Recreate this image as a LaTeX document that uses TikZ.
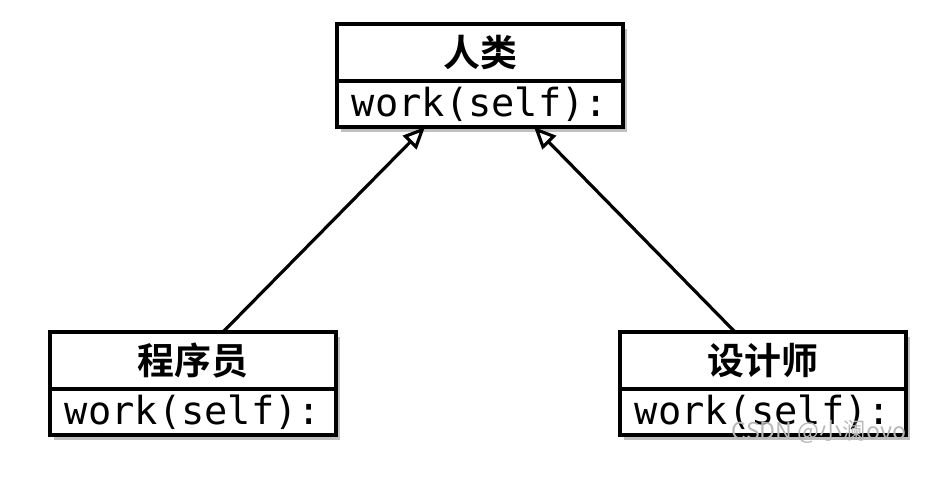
\documentclass[tikz,border=0pt]{standalone}
\usepackage{fontspec}
\setmonofont{DejaVu Sans Mono}
\newfontfamily\cjk{Noto Sans CJK SC}
\newfontfamily\cjkbold{Noto Sans CJK SC Bold}
\usetikzlibrary{positioning,arrows.meta,shadows}

\begin{document}
\begin{tikzpicture}[
    >={Triangle[open,length=0.22cm,width=0.19cm]},
    classbox/.style={draw, line width=1pt, fill=white, outer sep=0pt, inner sep=0pt,
        minimum width=2.86cm,
        drop shadow={shadow xshift=0.04cm, shadow yshift=-0.05cm, opacity=0.25, fill=black}},
    namebox/.style={classbox, minimum height=0.57cm, font=\cjkbold\fontsize{10.5}{12}\selectfont},
    workbox/.style={classbox, minimum height=0.46cm, font=\ttfamily\fontsize{11}{12}\selectfont},
    inherit/.style={->, line width=0.9pt},
]
\useasboundingbox (0,0) rectangle (9.3,4.77);

% ---- Parent class ----
\node[namebox, anchor=north] (human) at (4.80,4.53) {人类};
\node[workbox, below=0pt of human] (humanwork) {work(self):};

% ---- Child classes ----
\node[namebox, anchor=north] (coder) at (1.93,1.45) {程序员};
\node[workbox, below=0pt of coder] (coderwork) {work(self):};

\node[namebox, anchor=north] (designer) at (7.63,1.45) {设计师};
\node[workbox, below=0pt of designer] (designerwork) {work(self):};

% ---- Inheritance ----
\draw[inherit] ([xshift=0.30cm]coder.north) -- ([xshift=-0.55cm]humanwork.south);
\draw[inherit] ([xshift=-0.28cm]designer.north) -- ([xshift=0.54cm]humanwork.south);

% watermark
\node[font=\cjk\fontsize{6.6}{8}\selectfont, text=black!28] (mark) at (8.19,0.45) {CSDN @小澜ovo};

\end{tikzpicture}
\end{document}
